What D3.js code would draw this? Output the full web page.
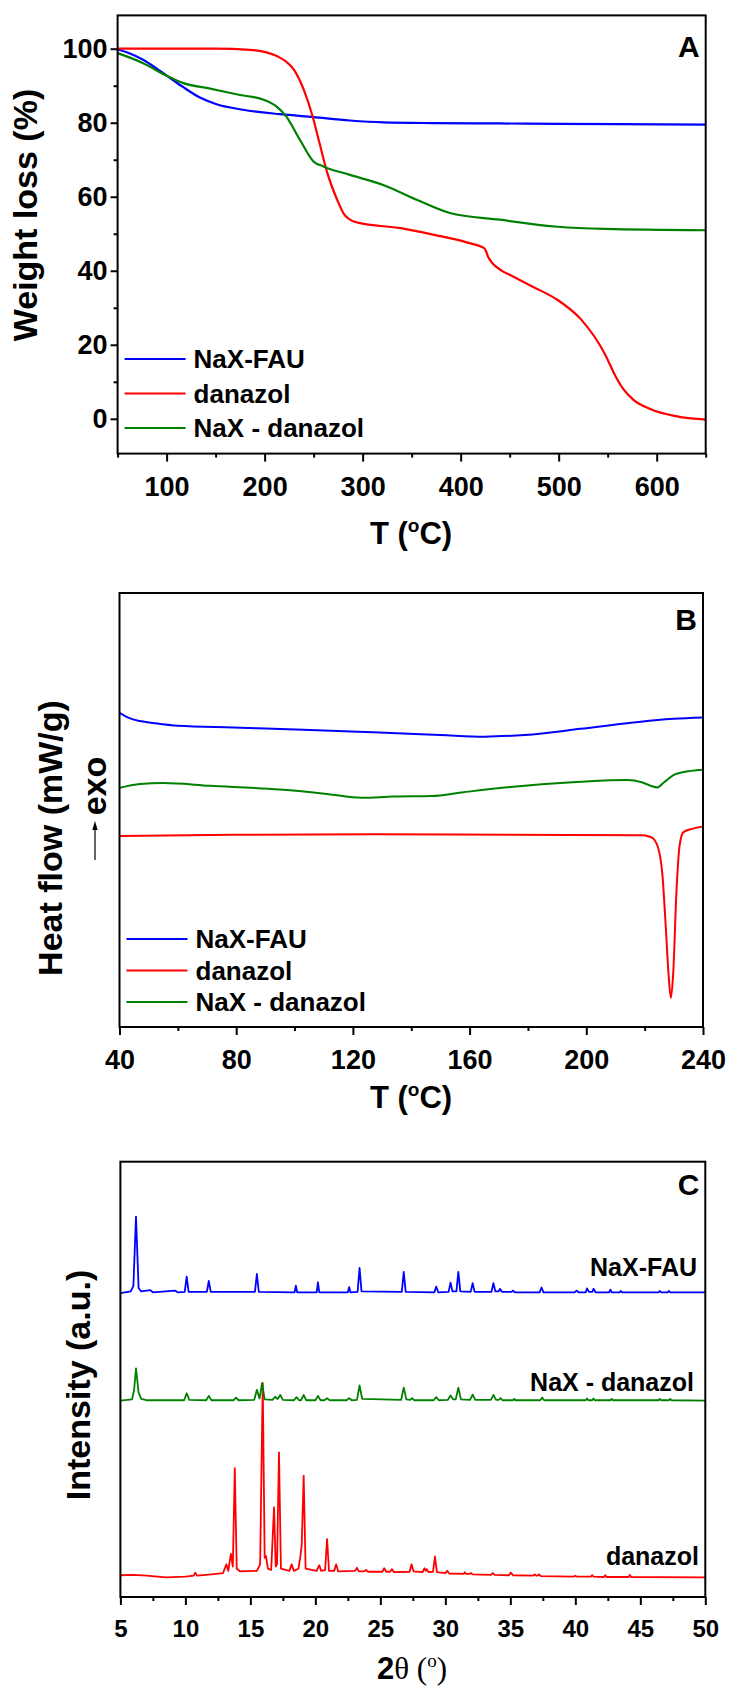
<!DOCTYPE html>
<html>
<head>
<meta charset="utf-8">
<script src="https://cdn.jsdelivr.net/npm/d3@7"></script>
<style>
body { margin: 0; background: #fff; }
svg text { font-family: "Liberation Sans", Arial, sans-serif; font-weight: bold; fill: #000; }
</style>
</head>
<body>
<div id="chart"></div>
<script>
"use strict";

// series names shared by the three panels
var seriesNames = ['NaX-FAU', 'danazol', 'NaX - danazol'];
var seriesColors = ['#0000ff', '#ff0000', '#008000'];

// A: TGA, [T (°C), weight %]
var tgaNaX = [[50,99.8],[60,99.0],[76,97.0],[90,94.6],[103,92.2],[117,89.6],[134,86.8],[151,85.0],
    [178,83.5],[216,82.3],[250,81.5],[287,80.6],[321,80.1],[372,79.9],[440,79.8],[500,79.7],[650,79.5]];
var tgaDanazol = [[50,100],[100,100],[150,100],[185,99.7],[202,99.0],[214,97.8],[221,96.7],[230,94.3],
    [240,88.9],[249,81.7],[256,74.5],[264,66.4],[274,59.2],[281,55.3],[285,54.2],[295,53.0],[339,51.5],
    [373,49.7],[407,47.6],[424,46.1],[426,45.2],[428,43.8],[441,40.2],[451,38.8],[475,35.5],[499,32.1],
    [523,26.8],[547,17.6],[558,11.5],[566,8.0],[576,5.2],[594,2.6],[618,0.8],[635,0.1],[650,-0.2]];
var tgaNaXDanazol = [[50,98.8],[76,96.1],[100,92.7],[117,90.7],[141,89.4],[175,87.5],[199,86.2],
    [212,84.4],[222,81.7],[236,75.4],[250,69.5],[260,68.2],[287,65.9],[321,63.2],[355,59.2],[389,55.6],
    [440,53.8],[499,51.9],[547,51.3],[650,50.95]];
var tgaXTicks = [100, 200, 300, 400, 500, 600];
var tgaXMinor = [50, 150, 250, 350, 450, 550, 650];
var tgaYTicks = [0, 20, 40, 60, 80, 100];
var tgaYMinor = [10, 30, 50, 70, 90];

// B: DSC, [T (°C), heat flow in arbitrary units]
var dscNaX = [[40,72.4],[43,71.3],[47,70.5],[52,70.0],[60,69.4],[79,69.0],[103,68.5],[127,67.9],
    [150,67.3],[165,66.9],[179,67.3],[198,68.7],[214,70.0],[230,71.0],[240,71.3]];
var dscDanazol = [[40,44.0],[79,44.3],[127,44.4],[174,44.3],[219,44.2],[221.5,43.9],[223,43.4],
    [225,40.3],[226.1,35],[227.2,23.5],[228.2,12.1],[229,6.7],[229.8,12.5],[230.9,31.2],[232,41.9],
    [233.3,44.9],[236.5,45.7],[240,46.2]];
var dscNaXDanazol = [[40,55.1],[47,56.0],[55,56.2],[71,55.6],[95,54.7],[111,53.7],[123,52.8],
    [134,53.1],[147,53.2],[158,54.1],[174,55.3],[198,56.5],[214,56.9],[219,56.4],[222,55.6],
    [224.3,55.2],[226.7,56.4],[230,58.1],[233,58.7],[240,59.3]];
var dscXTicks = [40, 80, 120, 160, 200, 240];
var dscXMinor = [60, 100, 140, 180, 220];

// C: XRD, [2θ (°), intensity in arbitrary units]
var xrdNaX = [[5,69.8],[5.8,70.2],[6.0,71.5],[6.2,87.4],[6.4,71.0],[6.6,70.2],[7.3,70.5],[7.5,70.0],
    [9.2,70.4],[9.4,70.0],[9.95,70.1],[10.1,73.6],[10.25,70.1],[11.65,70.1],[11.8,72.6],[11.95,70.1],
    [15.35,70.1],[15.5,74.2],[15.65,70.1],[18.4,70.0],[18.5,71.5],[18.6,70.0],[20.1,70.0],[20.2,72.3],
    [20.3,70.0],[22.5,70.0],[22.6,71.2],[22.7,70.0],[23.25,70.1],[23.4,75.6],[23.55,70.2],[26.65,70.1],
    [26.8,74.7],[26.95,70.1],[29.15,70.0],[29.3,71.3],[29.45,70.0],[30.25,70.1],[30.4,72.2],[30.55,70.2],
    [30.85,70.2],[31.0,74.7],[31.15,70.2],[31.95,70.1],[32.1,72.1],[32.25,70.1],[33.55,70.1],[33.7,72.1],
    [33.85,70.2],[34.1,70.2],[34.2,70.8],[34.35,70.1],[35.1,70.1],[35.2,70.4],[35.35,70.0],[37.25,70.0],
    [37.4,71.1],[37.55,70.0],[39.95,70.0],[40.1,70.4],[40.25,70.0],[40.8,70.0],[40.9,70.9],[41.05,70.1],
    [41.3,70.1],[41.4,70.8],[41.55,70.0],[42.6,70.0],[42.7,70.6],[42.8,70.0],[43.4,70.0],[43.5,70.3],
    [43.6,70.0],[46.4,70.0],[46.5,70.3],[46.6,70.0],[47.1,70.0],[47.2,70.3],[47.3,70.0],[50,70.0]];
var xrdNaXDanazol = [[5,45.1],[5.9,45.4],[6.05,47.5],[6.2,52.5],[6.4,47.0],[6.6,45.5],[7.0,45.2],
    [9.9,45.2],[10.1,46.8],[10.3,45.3],[11.6,45.2],[11.8,46.2],[12.0,45.2],[13.7,45.2],[13.9,45.8],
    [14.1,45.2],[15.3,45.3],[15.5,47.6],[15.7,45.6],[15.9,49.1],[16.1,45.4],[16.7,45.3],[16.9,46.0],
    [17.1,45.5],[17.3,46.4],[17.5,45.3],[18.35,45.2],[18.55,45.9],[18.75,45.2],[18.9,45.2],[19.1,46.4],
    [19.3,45.2],[20.0,45.2],[20.2,46.2],[20.4,45.2],[20.7,45.2],[20.9,45.7],[21.1,45.2],[22.4,45.2],
    [22.6,45.7],[22.8,45.2],[23.2,45.3],[23.4,48.6],[23.6,45.5],[26.6,45.3],[26.8,48.1],[27.0,45.4],
    [27.3,45.3],[27.45,45.7],[27.6,45.2],[29.1,45.2],[29.3,45.9],[29.5,45.2],[30.2,45.3],[30.4,46.3],
    [30.6,45.4],[30.8,45.4],[31.0,48.1],[31.2,45.4],[31.9,45.3],[32.1,46.5],[32.3,45.3],[33.5,45.3],
    [33.7,46.4],[33.9,45.3],[34.1,45.3],[34.25,45.7],[34.4,45.2],[35.2,45.2],[35.3,45.5],[35.4,45.2],
    [37.3,45.2],[37.45,45.8],[37.6,45.2],[40.8,45.2],[40.9,45.6],[41.0,45.2],[41.3,45.2],[41.4,45.6],
    [41.5,45.2],[42.7,45.2],[42.8,45.5],[42.9,45.2],[46.4,45.2],[46.5,45.5],[46.6,45.2],[47.2,45.2],
    [47.3,45.5],[47.4,45.2],[50,45.1]];
var xrdDanazol = [[5,5.0],[6,5.1],[7,4.9],[8.5,4.5],[10,4.7],[10.65,4.9],[10.76,5.6],[10.9,4.9],
    [12,5.2],[12.9,5.5],[13.15,7.5],[13.3,6.0],[13.5,9.9],[13.65,7.0],[13.8,29.6],[13.95,6.5],[14.2,5.9],
    [15.5,6.0],[15.75,7.5],[15.95,49.2],[16.1,9.0],[16.2,9.4],[16.35,6.5],[16.6,6.2],[16.82,20.6],
    [16.95,7.0],[17.05,7.5],[17.2,33.2],[17.35,6.5],[18.0,6.0],[18.17,7.5],[18.35,6.0],[18.7,6.5],
    [18.85,9.4],[18.95,12.0],[19.1,27.9],[19.25,6.5],[20.1,6.0],[20.3,7.3],[20.45,6.0],[20.75,6.2],
    [20.9,13.3],[21.05,6.0],[21.45,6.0],[21.6,7.5],[21.75,5.9],[23.05,6.0],[23.2,6.7],[23.35,5.9],
    [23.75,5.9],[23.9,6.2],[24.05,5.8],[25.15,5.8],[25.3,6.6],[25.45,5.8],[25.75,5.8],[25.9,6.4],
    [26.05,5.7],[27.25,5.8],[27.4,7.5],[27.55,5.9],[28.25,5.7],[28.39,6.6],[28.5,6.0],[28.57,6.4],
    [28.7,5.7],[29.05,5.8],[29.2,9.3],[29.35,5.7],[30.0,5.5],[30.14,6.0],[30.3,5.4],[31.4,5.3],
    [31.5,5.7],[31.6,5.3],[31.85,5.3],[31.96,5.5],[32.1,5.2],[33.5,5.1],[33.65,5.5],[33.8,5.1],
    [34.9,5.0],[35.04,5.6],[35.2,5.0],[36.75,4.9],[36.86,5.2],[37.0,4.9],[37.1,4.9],[37.2,5.2],
    [37.35,4.8],[39.9,4.7],[39.98,4.9],[40.1,4.7],[41.2,4.7],[41.3,5.0],[41.4,4.7],[42.2,4.6],
    [42.3,5.0],[42.4,4.6],[44.1,4.6],[44.2,5.05],[44.3,4.6],[50,4.5]];
var xrdXTicks = [5, 10, 15, 20, 25, 30, 35, 40, 45, 50];
var xrdXMinor = [7.5, 12.5, 17.5, 22.5, 27.5, 32.5, 37.5, 42.5, 47.5];

var svg = d3.select('#chart').append('svg')
    .attr('width', 729)
    .attr('height', 1686);

function drawPanel(p) {
    var g = svg.append('g');

    var x = d3.scaleLinear().domain(p.xDomain).range([p.left, p.right]);
    var y = d3.scaleLinear().domain(p.yDomain).range([p.bottom, p.top]);

    var xMajor = d3.axisBottom(x).tickValues(p.xTicks).tickSize(8).tickPadding(15).tickSizeOuter(0);
    var xMinor = d3.axisBottom(x).tickValues(p.xMinor).tickSize(4).tickFormat('').tickSizeOuter(0);

    g.append('g').attr('transform', 'translate(0,' + p.bottom + ')').call(xMinor);
    var xa = g.append('g').attr('transform', 'translate(0,' + p.bottom + ')').call(xMajor);
    xa.selectAll('text').style('font-size', p.tickFont + 'px');

    if (p.yTicks) {
        var yMajor = d3.axisLeft(y).tickValues(p.yTicks).tickSize(7).tickPadding(3).tickSizeOuter(0);
        var yMinor = d3.axisLeft(y).tickValues(p.yMinor).tickSize(4).tickFormat('').tickSizeOuter(0);
        g.append('g').attr('transform', 'translate(' + p.left + ',0)').call(yMinor);
        var ya = g.append('g').attr('transform', 'translate(' + p.left + ',0)').call(yMajor);
        ya.selectAll('text').style('font-size', p.tickFont + 'px');
    }

    g.selectAll('.domain').remove();
    g.selectAll('.tick line').attr('stroke', '#000').attr('stroke-width', 2);
    g.selectAll('.tick text').attr('fill', '#000').style('font-family', '"Liberation Sans", Arial, sans-serif');

    var line = d3.line()
        .x(function (d) { return x(d[0]); })
        .y(function (d) { return y(d[1]); })
        .curve(p.curve);

    p.series.forEach(function (s, i) {
        g.append('path')
            .datum(s)
            .attr('fill', 'none')
            .attr('stroke', p.colors[i])
            .attr('stroke-width', p.lineWidth)
            .attr('stroke-linejoin', 'round')
            .attr('d', line);
    });

    g.append('rect')
        .attr('x', p.left)
        .attr('y', p.top)
        .attr('width', p.right - p.left)
        .attr('height', p.bottom - p.top)
        .attr('fill', 'none')
        .attr('stroke', '#000')
        .attr('stroke-width', 2);

    g.append('text')
        .attr('x', p.right - 6)
        .attr('y', p.top + p.letterDy)
        .attr('text-anchor', 'end')
        .style('font-size', '30px')
        .text(p.letter);

    return {g: g, x: x, y: y};
}

function legend(g, left, firstY, step) {
    seriesNames.forEach(function (name, i) {
        var yy = firstY + i * step;
        g.append('line')
            .attr('x1', left).attr('x2', left + 61)
            .attr('y1', yy).attr('y2', yy)
            .attr('stroke', seriesColors[i])
            .attr('stroke-width', 2.2);
        g.append('text')
            .attr('x', left + 69)
            .attr('y', yy + 9)
            .style('font-size', '26px')
            .text(name);
    });
}

function tempLabel(g, cx, baseline) {
    var t = g.append('text')
        .attr('x', cx)
        .attr('y', baseline)
        .attr('text-anchor', 'middle')
        .style('font-size', '31px');
    t.append('tspan').text('T (');
    t.append('tspan').attr('dy', -12).style('font-size', '19px').text('o');
    t.append('tspan').attr('dy', 12).text('C)');
}

function yTitle(g, x, cy, label) {
    g.append('text')
        .attr('transform', 'translate(' + x + ',' + cy + ') rotate(-90)')
        .attr('text-anchor', 'middle')
        .style('font-size', '34px')
        .text(label);
}

// panel A
var a = drawPanel({
    left: 117.6, right: 705.7, top: 15.4, bottom: 453.6,
    xDomain: [50, 650], yDomain: [-9.4, 109],
    xTicks: tgaXTicks, xMinor: tgaXMinor, yTicks: tgaYTicks, yMinor: tgaYMinor,
    tickFont: 27, lineWidth: 2.2, curve: d3.curveMonotoneX,
    series: [tgaNaX, tgaDanazol, tgaNaXDanazol], colors: seriesColors,
    letter: 'A', letterDy: 42
});
legend(a.g, 124.6, 359, 34.5);
tempLabel(a.g, 411, 544);
yTitle(a.g, 37, 215, 'Weight loss (%)');

// panel B
var b = drawPanel({
    left: 119.5, right: 703, top: 593, bottom: 1027,
    xDomain: [40, 240], yDomain: [0, 100],
    xTicks: dscXTicks, xMinor: dscXMinor,
    tickFont: 27, lineWidth: 2, curve: d3.curveMonotoneX,
    series: [dscNaX, dscDanazol, dscNaXDanazol], colors: seriesColors,
    letter: 'B', letterDy: 37
});
legend(b.g, 126.5, 939, 31.5);
tempLabel(b.g, 411, 1108);
yTitle(b.g, 62, 838, 'Heat flow (mW/g)');
b.g.append('text')
    .attr('transform', 'translate(106,786) rotate(-90)')
    .attr('text-anchor', 'middle')
    .style('font-size', '34px')
    .text('exo');
b.g.append('line')
    .attr('x1', 95).attr('x2', 95)
    .attr('y1', 860).attr('y2', 828)
    .attr('stroke', '#000').attr('stroke-width', 1.2);
b.g.append('path')
    .attr('d', 'M95,821L92.3,830L97.7,830Z')
    .attr('fill', '#000');

// panel C
var c = drawPanel({
    left: 120.4, right: 705.3, top: 1161.7, bottom: 1597,
    xDomain: [5, 50], yDomain: [0, 100],
    xTicks: xrdXTicks, xMinor: xrdXMinor,
    tickFont: 24, lineWidth: 1.8, curve: d3.curveLinear,
    series: [xrdNaX, xrdDanazol, xrdNaXDanazol], colors: seriesColors,
    letter: 'C', letterDy: 33
});
yTitle(c.g, 90, 1385, 'Intensity (a.u.)');

var xrdLabels = [
    {text: 'NaX-FAU', x: 697, y: 1276},
    {text: 'NaX - danazol', x: 694, y: 1391},
    {text: 'danazol', x: 699, y: 1565}
];
xrdLabels.forEach(function (l) {
    c.g.append('text')
        .attr('x', l.x).attr('y', l.y)
        .attr('text-anchor', 'end')
        .style('font-size', '25px')
        .text(l.text);
});

var th = c.g.append('text')
    .attr('x', 412)
    .attr('y', 1679)
    .attr('text-anchor', 'middle')
    .style('font-size', '31px');
th.append('tspan').text('2');
th.append('tspan').style('font-family', '"Liberation Serif", "Times New Roman", serif').style('font-weight', 'normal').text('θ (');
th.append('tspan').attr('dy', -12).style('font-family', '"Liberation Serif", serif').style('font-weight', 'normal').style('font-size', '19px').text('o');
th.append('tspan').attr('dy', 12).style('font-family', '"Liberation Serif", serif').style('font-weight', 'normal').text(')');
</script>
</body>
</html>
